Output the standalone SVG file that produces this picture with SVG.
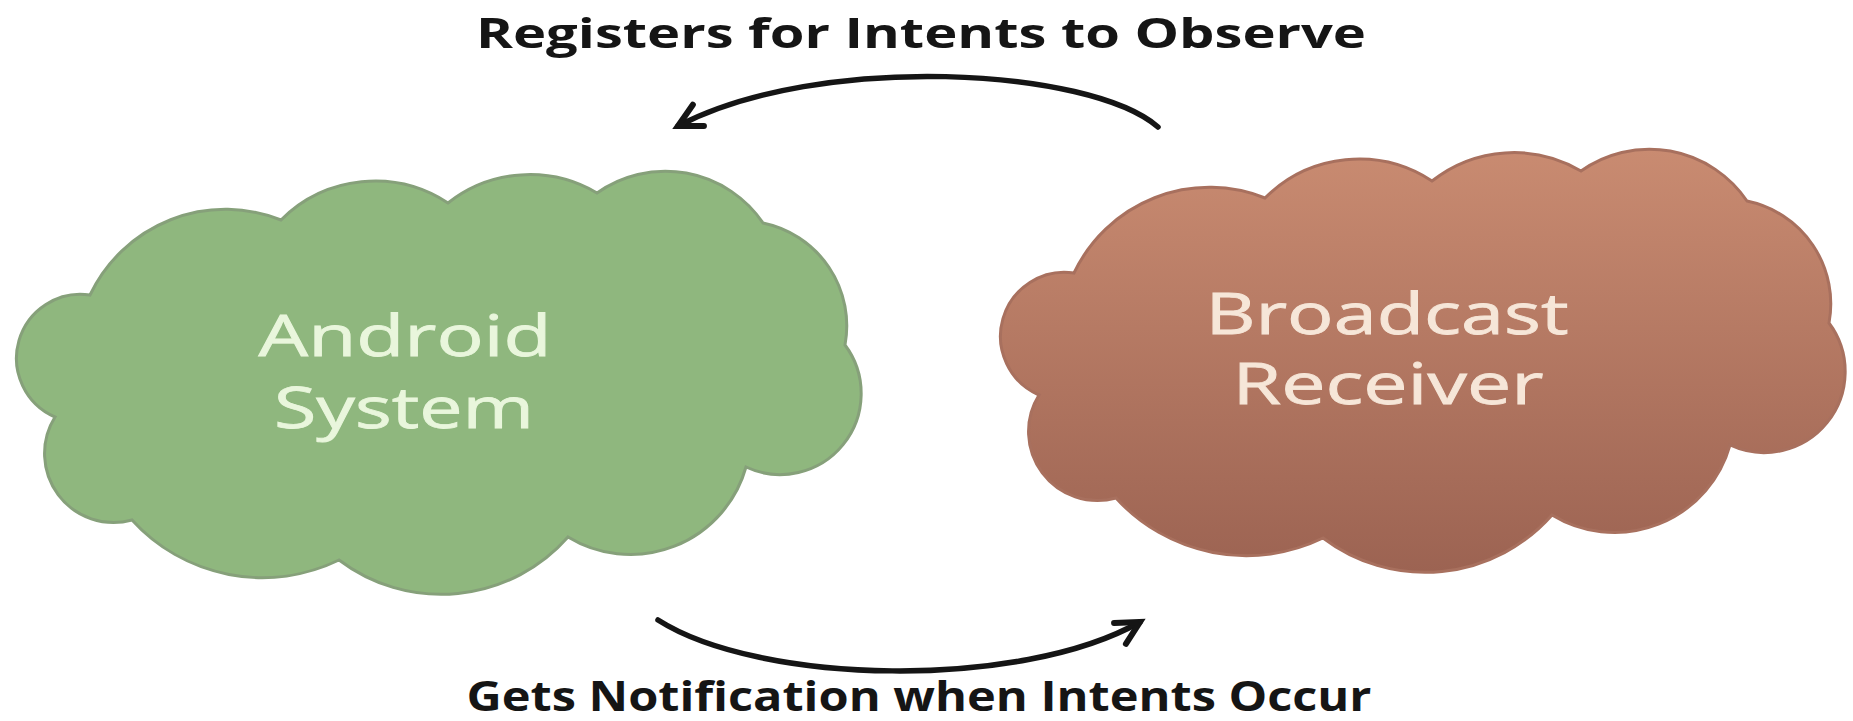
<svg xmlns="http://www.w3.org/2000/svg" width="1853" height="721" viewBox="0 0 1853 721">
  <style>
    .cloud-text { font-family: "Open Sans", "Liberation Sans", sans-serif; font-size: 56px; font-weight: 400; text-anchor: middle; stroke-width: 0.8; }
    .edge-label { font-family: "Open Sans", "Liberation Sans", sans-serif; font-size: 42px; font-weight: 700; fill: #151515; text-anchor: middle; }
    .arrow { fill: none; stroke: #151515; stroke-width: 5.5; stroke-linecap: round; marker-end: url(#head); }
  </style>
  <defs>
    <marker id="head" markerUnits="userSpaceOnUse" markerWidth="44" markerHeight="44" viewBox="-32 -22 44 44" refX="0" refY="0" orient="auto">
      <path d="M -23,-12 L 0,0 L -23,12" fill="none" stroke="#151515" stroke-width="6" stroke-linejoin="miter" stroke-linecap="round"/>
    </marker>
    <linearGradient id="brownGrad" x1="0" y1="0" x2="0" y2="1">
      <stop offset="0" stop-color="#c98b71"/>
      <stop offset="1" stop-color="#9c6352"/>
    </linearGradient>
    <path id="cloud" d="M 90,295 A 150,150 0 0 1 281,220 A 133,133 0 0 1 448,203 A 132,132 0 0 1 597,193 A 118,118 0 0 1 763,223 A 105,105 0 0 1 845,345 A 81,81 0 0 1 746,467 A 120,120 0 0 1 568,537 A 169,169 0 0 1 339,560 A 176,176 0 0 1 132,520 A 69,69 0 0 1 55,417 A 64,64 0 0 1 90,295 Z"/>
  </defs>
  <rect x="0" y="0" width="1853" height="721" fill="#ffffff"/>

  <g id="android-system">
    <use href="#cloud" fill="#8fb77e" stroke="#86a07a" stroke-width="3"/>
    <text class="cloud-text" fill="#e9f6dc" stroke="#e9f6dc" x="405" y="356" textLength="293" lengthAdjust="spacingAndGlyphs">Android</text>
    <text class="cloud-text" fill="#e9f6dc" stroke="#e9f6dc" x="404" y="428" textLength="260" lengthAdjust="spacingAndGlyphs">System</text>
  </g>

  <g id="broadcast-receiver">
    <use href="#cloud" transform="translate(984,-22)" fill="url(#brownGrad)" stroke="#a8705e" stroke-width="3"/>
    <text class="cloud-text" fill="#f6e6d8" stroke="#f6e6d8" x="1387" y="334" textLength="363" lengthAdjust="spacingAndGlyphs">Broadcast</text>
    <text class="cloud-text" fill="#f6e6d8" stroke="#f6e6d8" x="1388" y="404" textLength="311" lengthAdjust="spacingAndGlyphs">Receiver</text>
  </g>

  <g id="connectors">
    <path class="arrow" d="M 1158,127 C 1090,68 820,52 678,126"/>
    <text class="edge-label" x="921" y="48" textLength="890" lengthAdjust="spacingAndGlyphs">Registers for Intents to Observe</text>
    <path class="arrow" d="M 658,620 C 760,685 1020,690 1140,622"/>
    <text class="edge-label" x="919" y="711" textLength="905" lengthAdjust="spacingAndGlyphs">Gets Notification when Intents Occur</text>
  </g>
</svg>
